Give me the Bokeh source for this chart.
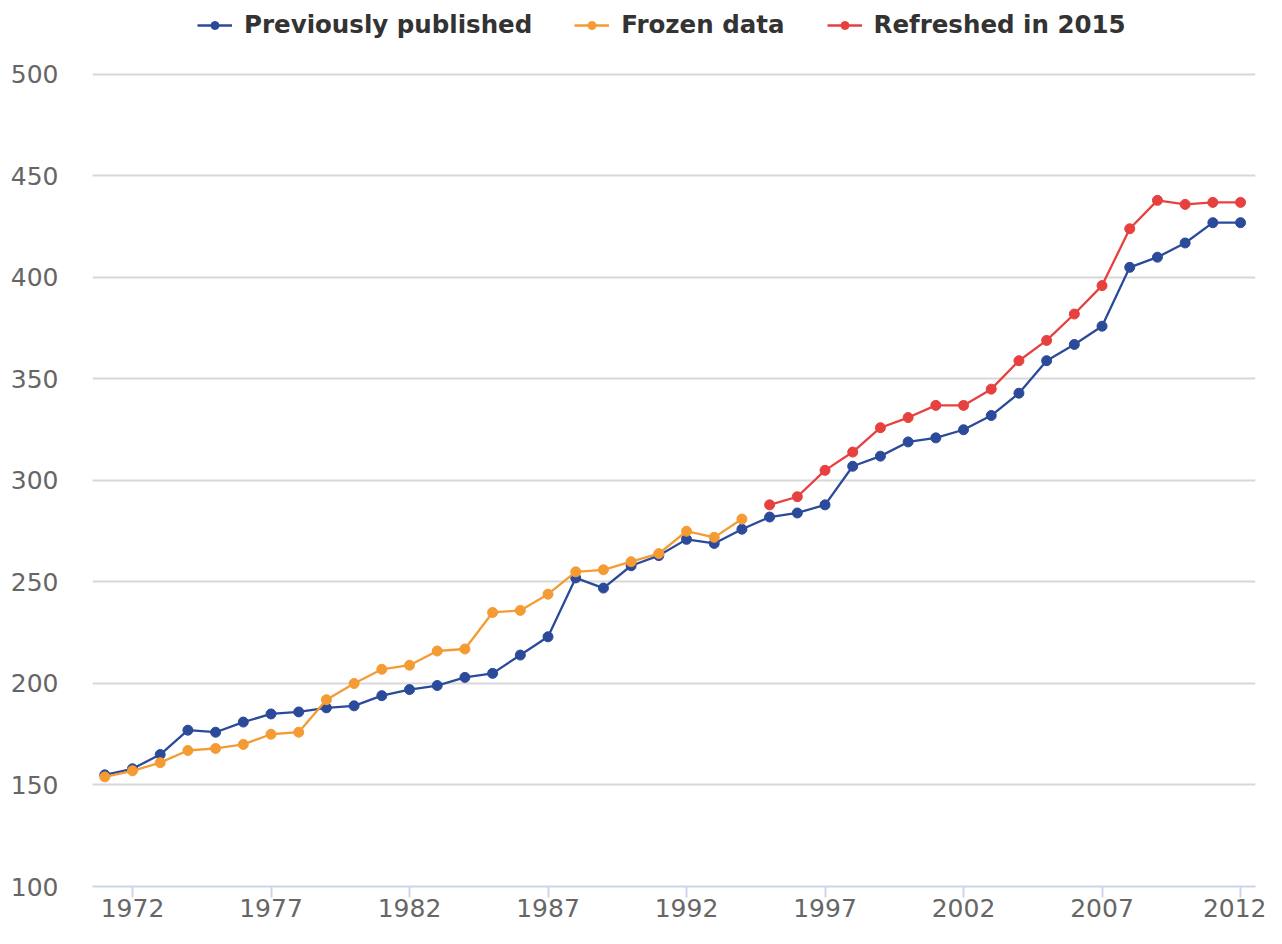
from bokeh.plotting import figure
from bokeh.models import Legend, LegendItem, FixedTicker, Range1d
from bokeh.embed import file_html
from bokeh.resources import INLINE

# ---- data ----
years = [1971, 1972, 1973, 1974, 1975, 1976, 1977, 1978, 1979, 1980,
         1981, 1982, 1983, 1984, 1985, 1986, 1987, 1988, 1989, 1990,
         1991, 1992, 1993, 1994, 1995, 1996, 1997, 1998, 1999, 2000,
         2001, 2002, 2003, 2004, 2005, 2006, 2007, 2008, 2009, 2010,
         2011, 2012]
previously_published = [155, 158, 165, 177, 176, 181, 185, 186, 188, 189,
                        194, 197, 199, 203, 205, 214, 223, 252, 247, 258,
                        263, 271, 269, 276, 282, 284, 288, 307, 312, 319,
                        321, 325, 332, 343, 359, 367, 376, 405, 410, 417,
                        427, 427]

frozen_years = [1971, 1972, 1973, 1974, 1975, 1976, 1977, 1978, 1979, 1980,
                1981, 1982, 1983, 1984, 1985, 1986, 1987, 1988, 1989, 1990,
                1991, 1992, 1993, 1994]
frozen_data = [154, 157, 161, 167, 168, 170, 175, 176, 192, 200,
               207, 209, 216, 217, 235, 236, 244, 255, 256, 260,
               264, 275, 272, 281]

refreshed_years = [1995, 1996, 1997, 1998, 1999, 2000, 2001, 2002, 2003,
                   2004, 2005, 2006, 2007, 2008, 2009, 2010, 2011, 2012]
refreshed_2015 = [288, 292, 305, 314, 326, 331, 337, 337, 345,
                  359, 369, 382, 396, 424, 438, 436, 437, 437]

x_ticks = [1972, 1977, 1982, 1987, 1992, 1997, 2002, 2007, 2012]
y_ticks = [100, 150, 200, 250, 300, 350, 400, 450, 500]

series_names = ["Previously published", "Frozen data", "Refreshed in 2015"]
colors = ["#2c4a9a", "#f59b33", "#e6413f"]

# ---- figure ----
# the y range reaches a little above 500 so that the legend sits in the frame
p = figure(width=1266, height=928,
           output_backend="svg", toolbar_location=None,
           x_range=Range1d(1970.556, 2012.54), y_range=Range1d(100, 536.45),
           min_border_left=92, min_border_right=11, min_border_top=0,
           min_border_bottom=42)
p.outline_line_color = None
p.background_fill_color = "white"
p.border_fill_color = "white"

# grid
p.xgrid.grid_line_color = None
p.ygrid.grid_line_color = "#d8d8d8"
p.ygrid.grid_line_width = 2
p.ygrid.ticker = FixedTicker(ticks=y_ticks[1:])

# axes
p.xaxis.ticker = FixedTicker(ticks=x_ticks)
p.xaxis.axis_line_color = "#ccd6eb"
p.xaxis.axis_line_width = 2
p.xaxis.major_tick_line_color = "#ccd6eb"
p.xaxis.major_tick_line_width = 2
p.xaxis.major_tick_out = 11
p.xaxis.major_tick_in = 0
p.xaxis.minor_tick_line_color = None
p.xaxis.major_label_text_font = "DejaVu Sans"
p.xaxis.major_label_text_font_size = "25px"
p.xaxis.major_label_text_color = "#666666"
p.xaxis.major_label_standoff = 1

p.yaxis.ticker = FixedTicker(ticks=y_ticks)
p.yaxis.axis_line_color = None
p.yaxis.major_tick_line_color = None
p.yaxis.minor_tick_line_color = None
p.yaxis.major_label_text_font = "DejaVu Sans"
p.yaxis.major_label_text_font_size = "25px"
p.yaxis.major_label_text_color = "#666666"
p.yaxis.major_label_standoff = 28

# series
r_pub_l = p.line(years, previously_published, line_color=colors[0], line_width=2.3)
r_pub_m = p.scatter(years, previously_published, size=10, fill_color=colors[0],
                    line_color=colors[0])
r_fro_l = p.line(frozen_years, frozen_data, line_color=colors[1], line_width=2.3)
r_fro_m = p.scatter(frozen_years, frozen_data, size=10, fill_color=colors[1],
                    line_color=colors[1])
r_ref_l = p.line(refreshed_years, refreshed_2015, line_color=colors[2], line_width=2.3)
r_ref_m = p.scatter(refreshed_years, refreshed_2015, size=10, fill_color=colors[2],
                    line_color=colors[2])

legend = Legend(items=[
    LegendItem(label=series_names[0], renderers=[r_pub_l, r_pub_m]),
    LegendItem(label=series_names[1], renderers=[r_fro_l, r_fro_m]),
    LegendItem(label=series_names[2], renderers=[r_ref_l, r_ref_m]),
], orientation="horizontal", location=(105, 847))
legend.label_text_font = "DejaVu Sans"
legend.label_text_font_style = "bold"
legend.label_text_font_size = "24.5px"
legend.label_text_color = "#333333"
legend.border_line_color = None
legend.background_fill_alpha = 0
legend.glyph_width = 35
legend.glyph_height = 20
legend.label_standoff = 12
legend.spacing = 42
legend.padding = 0
legend.margin = 0
p.add_layout(legend, "center")

open("out.html", "w").write(file_html(p, INLINE))
